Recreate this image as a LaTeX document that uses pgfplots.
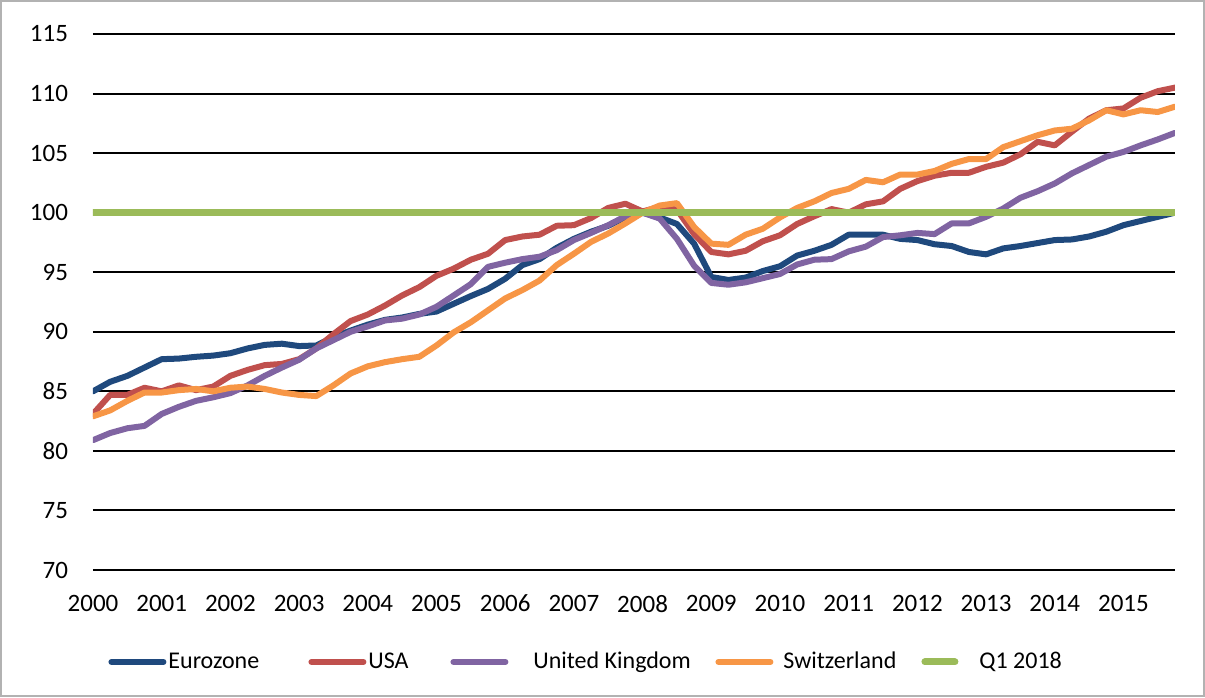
\documentclass[border=0pt]{standalone}
\usepackage{fontspec}
\setmainfont{Carlito}
\usepackage{pgfplots}
\usepackage{pgfplotstable}
\pgfplotsset{compat=1.18}
\definecolor{cEuro}{HTML}{1F497D}
\definecolor{cUSA}{HTML}{C0504D}
\definecolor{cUK}{HTML}{8064A2}
\definecolor{cCH}{HTML}{F79646}
\definecolor{cQ}{HTML}{9BBB59}
\pgfplotstableread{
i euro usa uk ch q
0 85.0 83.1 80.9 82.9 100
1 85.8 84.7 81.5 83.4 100
2 86.3 84.7 81.9 84.2 100
3 87.0 85.3 82.1 84.9 100
4 87.7 85.0 83.1 84.9 100
5 87.75 85.5 83.7 85.1 100
6 87.9 85.1 84.2 85.2 100
7 88.0 85.4 84.5 85.0 100
8 88.2 86.3 84.85 85.3 100
9 88.6 86.8 85.5 85.4 100
10 88.9 87.2 86.3 85.2 100
11 89.0 87.3 87.0 84.9 100
12 88.8 87.7 87.65 84.7 100
13 88.85 88.6 88.6 84.6 100
14 89.55 89.8 89.3 85.5 100
15 90.1 90.9 90.0 86.5 100
16 90.6 91.45 90.45 87.1 100
17 91.0 92.2 90.95 87.45 100
18 91.2 93.05 91.1 87.7 100
19 91.5 93.75 91.45 87.9 100
20 91.7 94.7 92.1 88.85 100
21 92.35 95.3 93.05 89.95 100
22 93.0 96.05 94.0 90.8 100
23 93.6 96.55 95.45 91.8 100
24 94.45 97.7 95.8 92.8 100
25 95.6 98.0 96.1 93.5 100
26 96.1 98.15 96.3 94.3 100
27 97.05 98.9 96.85 95.6 100
28 97.8 98.95 97.7 96.55 100
29 98.4 99.55 98.3 97.55 100
30 98.9 100.4 98.95 98.25 100
31 99.6 100.75 99.7 99.1 100
32 100.0 100.1 100.0 100.0 100
33 99.6 100.5 99.5 100.6 100
34 99.05 100.25 97.8 100.8 100
35 97.4 98.2 95.55 98.8 100
36 94.6 96.7 94.1 97.4 100
37 94.35 96.5 93.95 97.3 100
38 94.55 96.8 94.15 98.15 100
39 95.1 97.6 94.5 98.65 100
40 95.5 98.1 94.85 99.6 100
41 96.4 99.05 95.65 100.4 100
42 96.8 99.7 96.05 100.95 100
43 97.3 100.3 96.1 101.65 100
44 98.15 100.0 96.75 102.0 100
45 98.15 100.7 97.15 102.75 100
46 98.15 100.95 97.95 102.55 100
47 97.8 102.0 98.1 103.2 100
48 97.7 102.65 98.3 103.2 100
49 97.35 103.1 98.2 103.5 100
50 97.2 103.35 99.1 104.1 100
51 96.7 103.35 99.1 104.5 100
52 96.5 103.85 99.65 104.5 100
53 97.0 104.2 100.35 105.5 100
54 97.2 104.9 101.25 106.0 100
55 97.45 105.95 101.8 106.5 100
56 97.7 105.65 102.45 106.9 100
57 97.75 106.8 103.3 107.05 100
58 98.0 107.9 104.0 107.75 100
59 98.4 108.6 104.7 108.6 100
60 98.95 108.75 105.1 108.25 100
61 99.3 109.65 105.65 108.6 100
62 99.65 110.2 106.15 108.45 100
63 100.0 110.5 106.7 108.9 100
}\datatable
\begin{document}
\begin{tikzpicture}
\useasboundingbox (0,0) rectangle (602.5pt,348.5pt);
\begin{axis}[
  at={(46.5pt,63.5pt)}, anchor=south west,
  scale only axis, width=541pt, height=268pt,
  xmin=0, xmax=63, ymin=70, ymax=115,
  xtick={0,4,...,60},
  xticklabels={2000,2001,2002,2003,2004,2005,2006,2007,2008,2009,2010,2011,2012,2013,2014,2015},
  ytick={70,75,...,115},
  ymajorgrids, grid style={black, line width=1pt},
  axis line style={draw=none},
  major tick length=0pt,
  tick label style={font=\fontsize{12.5}{14}\selectfont},
  xticklabel style={yshift=-9pt},
  yticklabel style={xshift=-9pt},
  /pgf/number format/assume math mode=true,
  every axis plot/.append style={line width=3pt, line join=round, line cap=round, no markers},
  legend image code/.code={\draw[#1, line width=3pt, line cap=round] (0pt,0pt) -- (26pt,0pt);},
  legend style={draw=none, fill=none, inner sep=0pt, legend columns=-1,
    at={(0.0139,-0.1716)}, anchor=west,
    nodes={inner sep=0pt, anchor=west, font=\fontsize{12}{14}\selectfont},
    /tikz/every even column/.append style={column sep=0pt},
    /tikz/every odd column/.append style={column sep=0pt}},
]
\addplot[cEuro] table[x=i, y=euro] {\datatable};
\addlegendentry{\makebox[71pt][l]{\hspace{1pt}Eurozone}}
\addplot[cUSA] table[x=i, y=usa] {\datatable};
\addlegendentry{\makebox[42pt][l]{\hspace{1pt}USA}}
\addplot[cUK] table[x=i, y=uk] {\datatable};
\addlegendentry{\makebox[103.5pt][l]{\hspace{12.5pt}United Kingdom}}
\addplot[cCH] table[x=i, y=ch] {\datatable};
\addlegendentry{\makebox[74pt][l]{\hspace{5pt}Switzerland}}
\addplot[cQ, line width=3.5pt,
  legend image code/.code={\draw[cQ, line width=3.5pt, line cap=round] (0pt,0pt) -- (15pt,0pt);}]
  table[x=i, y=q] {\datatable};
\addlegendentry{\makebox[45pt][l]{\hspace{10.5pt}Q1 2018}}
\end{axis}
\draw[gray!60, line width=1pt] (0.5pt,0.5pt) rectangle (602pt,348pt);
\end{tikzpicture}
\end{document}
